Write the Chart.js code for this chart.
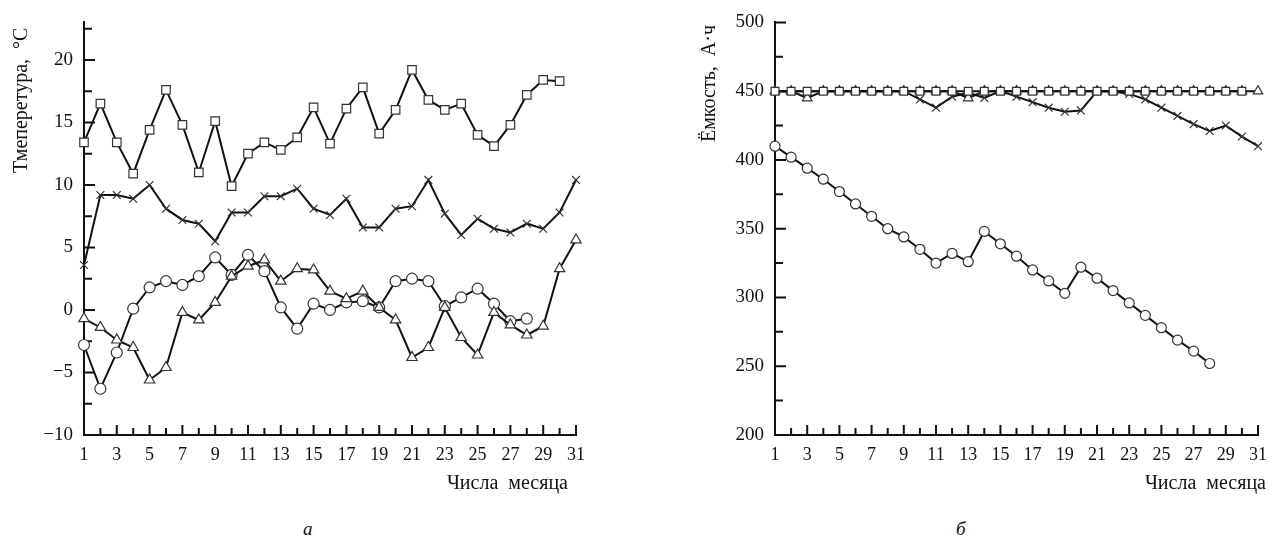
<!DOCTYPE html>
<html>
<head>
<meta charset="utf-8">
<script src="https://cdn.jsdelivr.net/npm/chart.js@4"></script>
<style>
  body { margin: 0; background: #fff; width: 1276px; height: 548px; position: relative; overflow: hidden; font-family: 'Liberation Serif', 'Times New Roman', serif; color: #111; }
  canvas { position: absolute; top: 0; }
  .txt { position: absolute; font-size: 20px; line-height: 24px; white-space: nowrap; }
  .rot { transform: rotate(-90deg); transform-origin: left top; line-height: 22px; }
  .sub { position: absolute; font-size: 19px; font-style: italic; line-height: 22px; }
</style>
</head>
<body>
<canvas id="tempChart" width="640" height="500" style="left:0"></canvas>
<canvas id="capChart" width="636" height="500" style="left:640px"></canvas>

<div class="txt rot" style="left:9px; top:173px;">Тмеперетура,&nbsp; °C</div>
<div class="txt rot" style="left:697px; top:142px;">Ёмкость,&nbsp; А·ч</div>
<div class="txt" style="right:708px; top:470px;">Числа&nbsp; месяца</div>
<div class="txt" style="right:10px; top:470px;">Числа&nbsp; месяца</div>
<div class="sub" style="left:303px; top:518px;">а</div>
<div class="sub" style="left:956px; top:518px;">б</div>

<script>
const days = ['1','2','3','4','5','6','7','8','9','10','11','12','13','14','15','16',
  '17','18','19','20','21','22','23','24','25','26','27','28','29','30','31'];

// а — температура, °C
const tempSquare = [13.4, 16.5, 13.4, 10.9, 14.4, 17.6, 14.8, 11.0, 15.1, 9.9, 12.5, 13.4, 12.8, 13.8, 16.2,
  13.3, 16.1, 17.8, 14.1, 16.0, 19.2, 16.8, 16.0, 16.5, 14.0, 13.1, 14.8, 17.2, 18.4, 18.3];
const tempCross = [3.6, 9.2, 9.2, 8.9, 10.0, 8.1, 7.2, 6.9, 5.5, 7.8, 7.8, 9.1, 9.1, 9.7, 8.1,
  7.6, 8.9, 6.6, 6.6, 8.1, 8.3, 10.4, 7.7, 6.0, 7.3, 6.5, 6.2, 6.9, 6.5, 7.8, 10.4];
const tempCircle = [-2.8, -6.3, -3.4, 0.1, 1.8, 2.3, 2.0, 2.7, 4.2, 2.8, 4.4, 3.1, 0.2, -1.5, 0.5,
  0.0, 0.6, 0.7, 0.2, 2.3, 2.5, 2.3, 0.3, 1.0, 1.7, 0.5, -0.9, -0.7];
const tempTriangle = [-0.7, -1.4, -2.4, -3.0, -5.6, -4.6, -0.2, -0.8, 0.6, 2.7, 3.5, 4.0, 2.3, 3.3, 3.2,
  1.5, 0.9, 1.5, 0.2, -0.8, -3.8, -3.0, 0.2, -2.2, -3.6, -0.2, -1.2, -2.0, -1.3, 3.3, 5.6];

// б — ёмкость, А·ч
const capCircle = [410, 402, 394, 386, 377, 368, 359, 350, 344, 335, 325, 332, 326, 348, 339,
  330, 320, 312, 303, 322, 314, 305, 296, 287, 278, 269, 261, 252];
const capSquare = [450, 450, 450, 450, 450, 450, 450, 450, 450, 450, 450, 450, 450, 450, 450,
  450, 450, 450, 450, 450, 450, 450, 450, 450, 450, 450, 450, 450, 450, 450];
const capTriangle = [450, 450, 445, 450, 450, 450, 450, 450, 450, 450, 450, 450, 445, 450, 450,
  450, 450, 450, 450, 450, 450, 450, 450, 450, 450, 450, 450, 450, 450, 450, 450];
const capCross = [450, 450, 450, 450, 450, 450, 450, 450, 450, 444, 438, 446, 449, 445, 450,
  446, 442, 438, 435, 436, 450, 450, 448, 444, 438, 432, 426, 421, 425, 417, 410];

const FONT = "'Liberation Serif', 'Times New Roman', serif";

// tick marks drawn inside the plot, like the original figure
const innerTicks = {
  id: 'innerTicks',
  beforeDatasetsDraw(chart, args, opts) {
    const { ctx, chartArea } = chart;
    const xs = chart.scales.x, ys = chart.scales.y;
    ctx.save();
    ctx.strokeStyle = '#111';
    ctx.lineWidth = 2;
    ctx.beginPath();
    for (let i = 0; i < days.length; i++) {
      const px = xs.getPixelForValue(i);
      const len = i % 2 === 0 ? 10 : 7;
      ctx.moveTo(px, chartArea.bottom);
      ctx.lineTo(px, chartArea.bottom - len);
    }
    const half = opts.step / 2;
    for (let v = ys.min; v <= ys.max + 1e-6; v += half) {
      const py = ys.getPixelForValue(v);
      const major = Math.abs((v - ys.min) % opts.step) < 1e-6;
      ctx.moveTo(chartArea.left, py);
      ctx.lineTo(chartArea.left + (major ? 11 : 8), py);
    }
    ctx.stroke();
    ctx.restore();
  }
};

function series(data, style, radius) {
  return {
    data: data,
    borderColor: '#111',
    borderWidth: 2,
    pointStyle: style,
    pointRadius: radius,
    pointBackgroundColor: '#fff',
    pointBorderColor: '#333',
    pointBorderWidth: 1.2,
    tension: 0,
    fill: false
  };
}

function makeChart(id, datasets, yMin, yMax, step, yWidth, pad) {
  const fmt = v => (v < 0 ? '\u2212' + Math.abs(v) : String(v));
  return new Chart(document.getElementById(id), {
    type: 'line',
    data: { labels: days, datasets: datasets },
    options: {
      responsive: false,
      animation: false,
      layout: { padding: pad },
      plugins: { legend: { display: false }, tooltip: { enabled: false }, innerTicks: { step: step } },
      scales: {
        x: {
          type: 'category',
          offset: false,
          grid: { display: false, drawTicks: false },
          border: { display: true, color: '#111', width: 2 },
          ticks: {
            autoSkip: false, maxRotation: 0, padding: 9, color: '#111',
            font: { family: FONT, size: 18 },
            callback: (v, i) => (i % 2 === 0 ? days[i] : '')
          },
          afterFit: s => { s.height = 65; }
        },
        y: {
          type: 'linear',
          min: yMin, max: yMax,
          grid: { display: false, drawTicks: false },
          border: { display: true, color: '#111', width: 2 },
          ticks: {
            stepSize: step, padding: 11, color: '#111',
            font: { family: FONT, size: 19 },
            callback: v => ((v - yMin) % step === 0 ? fmt(v) : '')
          },
          afterFit: s => { s.width = yWidth; }
        }
      }
    },
    plugins: [innerTicks]
  });
}

makeChart('tempChart', [
  series(tempTriangle, 'triangle', 6),
  series(tempCircle, 'circle', 5.5),
  series(tempCross, 'crossRot', 5.5),
  series(tempSquare, 'rect', 6)
], -10, 23, 5, 84, { left: 0, right: 64, top: 21, bottom: 0 });

makeChart('capChart', [
  series(capCircle, 'circle', 5),
  series(capSquare, 'rect', 5.5),
  series(capTriangle, 'triangle', 5.5),
  series(capCross, 'crossRot', 5.5)
], 200, 500, 50, 135, { left: 0, right: 10, top: 20, bottom: 0 });
</script>
</body>
</html>
